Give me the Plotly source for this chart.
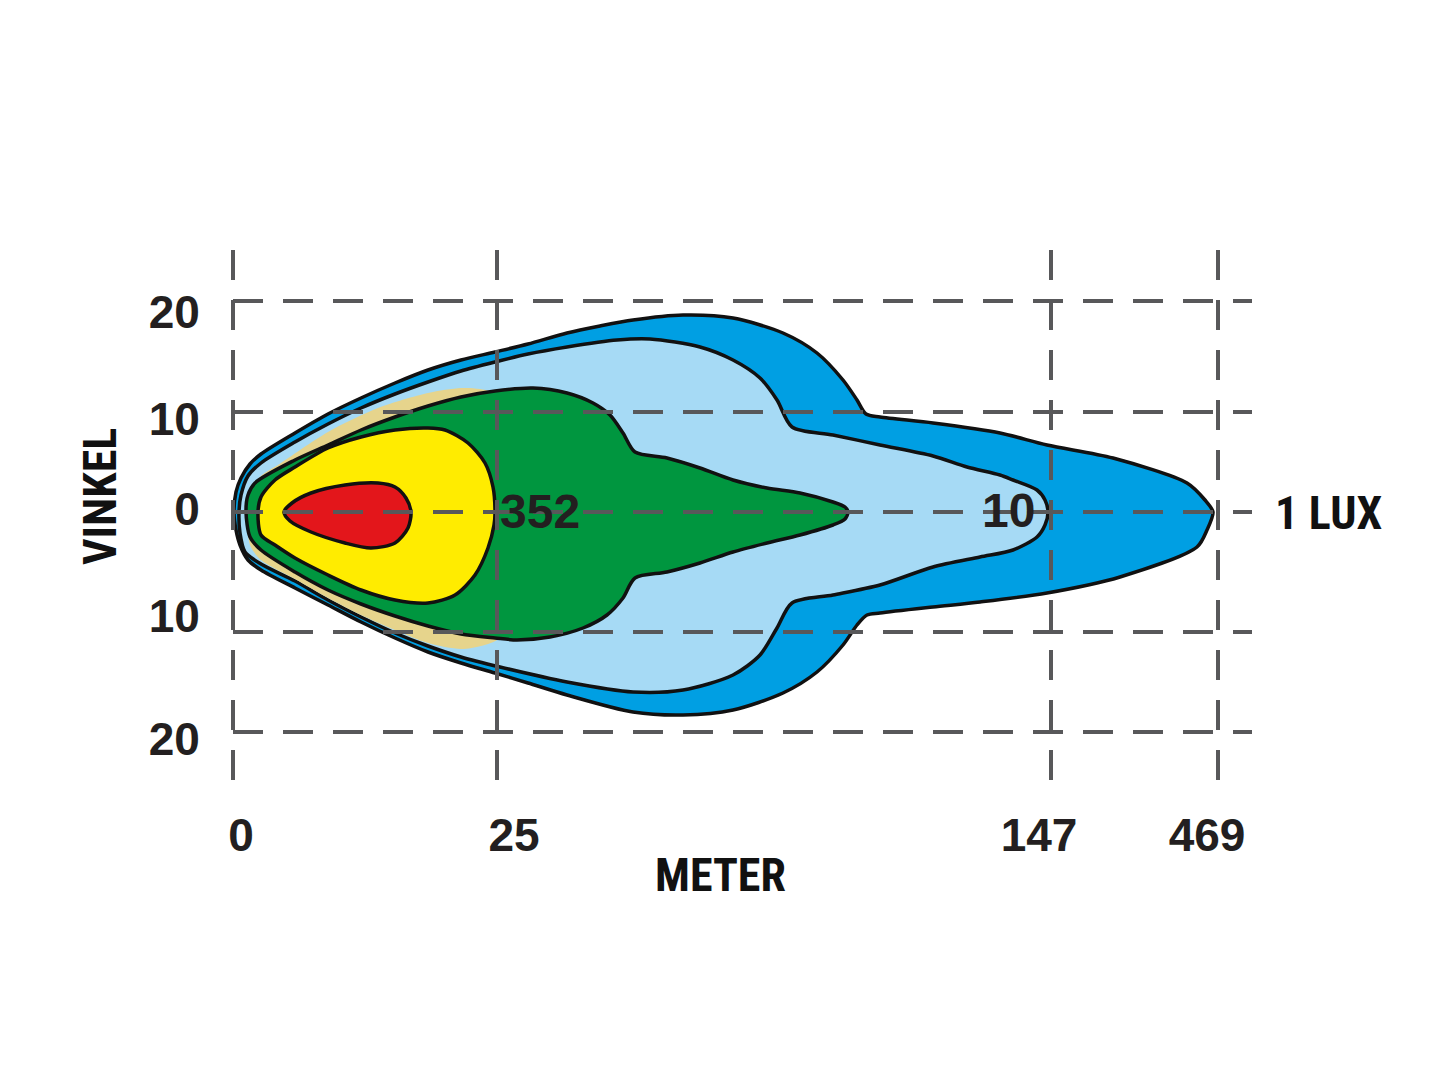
import plotly.graph_objects as go

# diagram units: x = along the beam (0 = lamp), y = spread (0 = beam axis, up positive)
x_grid = [0, 264, 818, 985]
y_grid = [211, 100, 0, -120, -220]

x_tick_pos = [8, 281, 806, 974]
x_tick_text = ["0", "25", "147", "469"]
y_tick_pos = [200, 93, 3, -104, -227]
y_tick_text = ["20", "10", "0", "10", "20"]

# iso-lux outlines
lux1_x = [1, 3, 8, 17, 28, 62, 95, 128, 162, 195, 228, 262, 295, 334, 367, 400, 450, 500, 550, 584,
          610, 624, 633, 647, 700, 767, 814, 880, 954, 972, 980,
          974, 964, 887, 814, 747, 700, 647, 634, 624, 610, 584, 550, 500, 450, 400, 334, 295, 262,
          228, 195, 162, 128, 95, 62, 28, 15, 7, 3, 1]
lux1_y = [0, 20, 34, 48, 58, 79, 98, 114, 129, 142, 152, 160, 168, 179, 186, 192, 197, 194, 179, 159,
          132, 112, 98, 95, 89, 79, 67, 54, 29, 12, 0,
          -18, -35, -65, -81, -90, -95, -101, -103, -113, -133, -160, -181, -198, -203, -200, -183, -171, -161,
          -151, -140, -126, -110, -93, -76, -58, -48, -33, -18, 0]

lux10_x = [6, 8, 15, 28, 62, 95, 128, 162, 195, 228, 262, 295, 334, 384, 417, 467, 500, 527, 544, 559,
           600, 647, 700, 734, 767, 780, 804, 812, 815,
           812, 804, 780, 747, 700, 647, 600, 559, 544, 527, 500, 450, 400, 334, 267, 228, 195, 162,
           128, 95, 62, 28, 12, 7, 6]
lux10_y = [0, 17, 36, 49, 70, 88, 104, 118, 130, 141, 150, 158, 165, 172, 173, 165, 152, 134, 112, 85,
           77, 67, 56, 45, 37, 32, 22, 12, 0,
           -13, -25, -38, -45, -55, -73, -83, -91, -116, -143, -163, -178, -180, -170, -155, -145, -134, -121,
           -105, -88, -69, -52, -40, -21, 0]

tan_x = [14, 17, 29, 45, 95, 145, 195, 228, 247, 267, 287, 287, 267, 248, 228, 195, 162, 128, 95, 62, 28, 17, 14]
tan_y = [0, 22, 37, 47, 80, 104, 119, 124, 123, 117, 92, -88, -126, -134, -137, -131, -118, -103, -86, -67, -48, -33, 0]

green_x = [13, 15, 22, 62, 95, 128, 162, 195, 228, 262, 300, 334, 360, 377, 390, 402, 434, 467, 500, 534,
           567, 600, 612, 615,
           612, 600, 567, 534, 500, 467, 434, 402, 390, 374, 350, 317, 284, 262, 228, 195, 162, 128,
           95, 62, 28, 17, 13]
green_y = [0, 17, 29, 52, 67, 82, 95, 106, 115, 121, 124, 119, 109, 97, 79, 60, 54, 44, 32, 24,
           19, 10, 5, 0,
           -7, -13, -23, -31, -40, -51, -60, -66, -86, -103, -116, -125, -128, -126, -122, -114, -104, -92,
           -78, -60, -38, -25, 0]

yellow_x = [25, 28, 42, 62, 95, 128, 162, 195, 212, 235, 252, 260, 262,
            261, 255, 242, 222, 195, 162, 128, 95, 62, 42, 28, 25]
yellow_y = [0, 15, 32, 45, 64, 75, 82, 84, 82, 69, 49, 25, 0,
            -13, -36, -63, -83, -91, -88, -78, -63, -46, -33, -23, 0]

red_x = [51, 59, 78, 112, 145, 162, 173, 178, 175, 162, 138, 112, 78, 57, 51]
red_y = [0, 9, 19, 27, 29, 25, 14, 0, -16, -31, -36, -31, -20, -9, 0]

zones = [
    (lux1_x, lux1_y, "#009FE3", True),
    (lux10_x, lux10_y, "#A6DAF5", True),
    (tan_x, tan_y, "#E6D48C", False),
    (green_x, green_y, "#00963F", True),
    (yellow_x, yellow_y, "#FFEC00", True),
    (red_x, red_y, "#E3161B", True),
]

x_range = [-5, 1019]
y_range = [-268, 262]

fig = go.Figure()

for xs, ys, col, outline in zones:
    fig.add_trace(go.Scatter(
        x=xs, y=ys,
        mode="lines",
        fill="toself",
        fillcolor=col,
        line=dict(color="#111111" if outline else col, width=3.5 if outline else 0,
                  shape="spline", smoothing=0.8),
        hoverinfo="skip",
        showlegend=False,
    ))

# dashed grid drawn on top of the coloured zones
grid_style = dict(color="#58585A", width=4, dash="30px,20px")
for gx in x_grid:
    fig.add_shape(type="line", xref="x", yref="y", x0=gx, x1=gx, y0=y_range[1], y1=y_range[0],
                  line=grid_style, layer="above")
for gy in y_grid:
    fig.add_shape(type="line", xref="x", yref="y", x0=0, x1=x_range[1], y0=gy, y1=gy,
                  line=grid_style, layer="above")

tick_font = dict(family="Liberation Sans, Arial, sans-serif", size=46, color="#231F20", weight="bold")
title_font = dict(family="Roboto Condensed, Liberation Sans Narrow, DejaVu Sans Condensed, Roboto, sans-serif",
                  size=46, color="#111111", weight="bold")

fig.update_layout(
    width=1445,
    height=1084,
    margin=dict(l=220, r=201, t=242, b=312),
    paper_bgcolor="white",
    plot_bgcolor="white",
    xaxis=dict(range=x_range, showgrid=False, zeroline=False, showline=False, fixedrange=True,
               tickmode="array", tickvals=x_tick_pos, ticktext=x_tick_text, tickfont=tick_font,
               ticks="outside", ticklen=15, tickcolor="rgba(0,0,0,0)"),
    yaxis=dict(range=y_range, showgrid=False, zeroline=False, showline=False, fixedrange=True,
               tickmode="array", tickvals=y_tick_pos, ticktext=y_tick_text, tickfont=tick_font,
               ticks="outside", ticklen=18, tickcolor="rgba(0,0,0,0)"),
)

fig.add_annotation(x=-0.125, y=0.534, xref="paper", yref="paper", text="VINKEL", textangle=-90,
                   xanchor="center", yanchor="middle", showarrow=False, font=title_font)
fig.add_annotation(x=0.4805, y=-0.179, xref="paper", yref="paper", text="METER",
                   xanchor="center", yanchor="middle", showarrow=False, font=title_font)
fig.add_annotation(x=1.075, y=0.504, xref="paper", yref="paper", text="1 LUX",
                   xanchor="center", yanchor="middle", showarrow=False, font=title_font)
fig.add_annotation(x=307, y=1, xref="x", yref="y", text="352",
                   showarrow=False, font=dict(tick_font, size=48))
fig.add_annotation(x=775, y=2, xref="x", yref="y", text="10",
                   showarrow=False, font=dict(tick_font, size=48))

fig.write_html("out.html")
